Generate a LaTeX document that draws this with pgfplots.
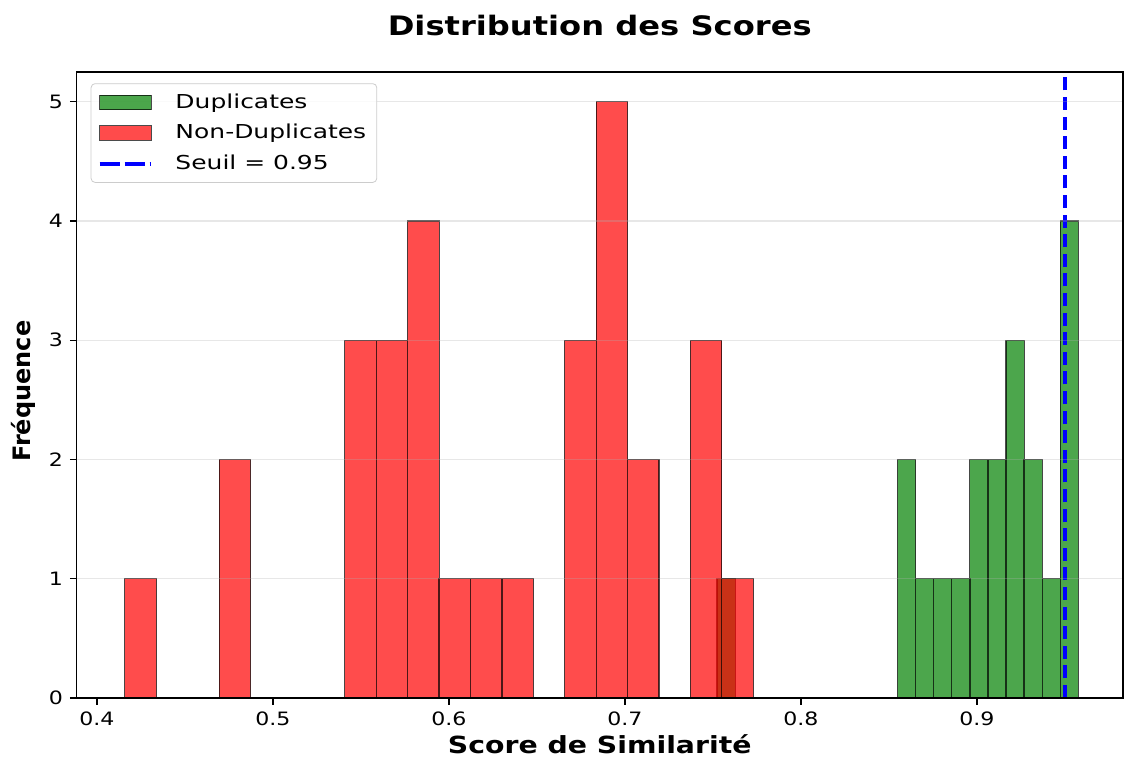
\documentclass[border=0pt]{standalone}
\usepackage{fontspec}
\setmainfont{DejaVu Sans}[FakeStretch=1.2]
\newfontfamily\legfont{DejaVu Sans}[FakeStretch=1.3]
\newfontfamily\ylabfont{DejaVu Sans}
\usepackage{pgfplots}
\pgfplotsset{compat=1.18}

\definecolor{mplgreen}{RGB}{0,128,0}
\definecolor{mplred}{RGB}{255,0,0}
\definecolor{gridc}{RGB}{176,176,176}
\definecolor{legedge}{RGB}{204,204,204}

\pgfplotsset{
  barlegend/.style={legend image code/.code={\draw[##1, sharp corners] (0pt,-3.65pt) rectangle (25.9pt,3.65pt);}},
  linelegend/.style={legend image code/.code={\draw[##1, sharp corners, dash pattern=on 10pt off 2.5pt] (0pt,0pt) -- (25.9pt,0pt);}},
}

\begin{document}
\begin{tikzpicture}
\begin{axis}[
  scale only axis,
  width=523.25pt, height=313pt,
  xmin=0.3884, xmax=0.9830,
  ymin=0, ymax=5.25,
  xtick={0.4,0.5,0.6,0.7,0.8,0.9},
  ytick={0,1,2,3,4,5},
  xtick pos=lower, ytick pos=left,
  tick align=outside,
  major tick length=3.3pt,
  tick style={black, line width=0.7pt},
  axis line style={black, line width=0.7pt},
  ymajorgrids,
  grid style={draw=gridc, draw opacity=0.3, line width=0.7pt},
  axis on top,
  /pgf/number format/assume math mode=true,
  ticklabel style={font=\fontsize{9.2}{11}\selectfont},
  title={Distribution des Scores},
  title style={font=\bfseries\fontsize{13.4}{16}\selectfont,
    at={(axis description cs:0.5,1.0399)}, anchor=base, inner sep=0pt},
  xlabel={Score de Similarité},
  xlabel style={font=\bfseries\fontsize{11.8}{14}\selectfont,
    at={(axis description cs:0.5,-0.0880)}, anchor=base, inner sep=0pt},
  ylabel={Fréquence},
  ylabel style={font=\ylabfont\bfseries\fontsize{12}{14}\selectfont,
    at={(axis description cs:-0.0385,0.49)}, anchor=south, inner sep=0pt},
  legend cell align=left,
  legend style={at={(axis description cs:0.01357,0.982)}, anchor=north west,
    draw=legedge, fill=white, fill opacity=0.8, text opacity=1,
    rounded corners=2pt, inner xsep=3.3pt, inner ysep=3pt,
    row sep=2.5pt,
    font=\legfont\fontsize{9.6}{11}\selectfont,
    /tikz/every odd column/.append style={column sep=9pt}},
]

% Duplicates (20 bins)
\addplot[ybar, bar width=0.010262, bar shift=0pt,
  fill=mplgreen, fill opacity=0.7, draw=black, draw opacity=0.7, line width=0.6pt,
  barlegend]
  coordinates {
    (0.7575,1)
    (0.8601,2) (0.8704,1) (0.8806,1) (0.8909,1) (0.9011,2)
    (0.9114,2) (0.9217,3) (0.9319,2) (0.9422,1) (0.9524,4)
  };
\addlegendentry{Duplicates}

% Non-Duplicates (20 bins)
\addplot[ybar, bar width=0.01785, bar shift=0pt,
  fill=mplred, fill opacity=0.7, draw=black, draw opacity=0.7, line width=0.6pt,
  barlegend]
  coordinates {
    (0.4248,1) (0.4784,2)
    (0.5498,3) (0.5676,3) (0.5855,4) (0.6033,1) (0.6212,1) (0.6390,1)
    (0.6747,3) (0.6926,5) (0.7104,2)
    (0.7461,3) (0.7640,1)
  };
\addlegendentry{Non-Duplicates}

% threshold
\addplot[blue, line width=2pt, dash pattern=on 6.5pt off 3.3pt, linelegend]
  coordinates {(0.95,0) (0.95,5.25)};
\addlegendentry{Seuil = 0.95}

\end{axis}
\pgfresetboundingbox
\path[use as bounding box] (-38.25pt,-30pt) rectangle (524.75pt,349pt);
\end{tikzpicture}
\end{document}
